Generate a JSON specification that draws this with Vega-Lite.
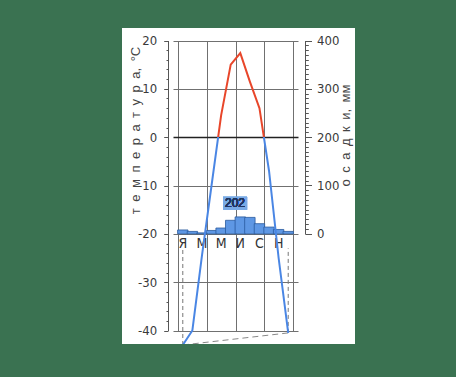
{
  "$schema": "https://vega.github.io/schema/vega-lite/v6.json",
  "width": 233,
  "height": 316,
  "autosize": {"type": "none"},
  "padding": {"left": 122, "top": 28, "right": 101, "bottom": 33},
  "background": "#3a7251",
  "config": {
    "view": {"fill": "white", "stroke": null},
    "font": "Liberation Sans Narrow, DejaVu Sans Condensed, sans-serif"
  },
  "datasets": {
    "climate": [
      {"m": 1, "t": -43, "p": 8, "lbl": "Я"},
      {"m": 2, "t": -40, "p": 5, "lbl": ""},
      {"m": 3, "t": -24.5, "p": 2, "lbl": "М"},
      {"m": 4, "t": -10, "p": 7, "lbl": ""},
      {"m": 5, "t": 4.5, "p": 12, "lbl": "М"},
      {"m": 6, "t": 15, "p": 28, "lbl": ""},
      {"m": 7, "t": 17.4, "p": 35, "lbl": "И"},
      {"m": 8, "t": 11.5, "p": 34, "lbl": ""},
      {"m": 9, "t": 6, "p": 21, "lbl": "С"},
      {"m": 10, "t": -7, "p": 14, "lbl": ""},
      {"m": 11, "t": -25, "p": 9, "lbl": "Н"},
      {"m": 12, "t": -40.5, "p": 5, "lbl": ""}
    ]
  },
  "data": {"name": "climate"},
  "layer": [
    {
      "transform": [{"filter": {"field": "m", "oneOf": [1, 12]}}],
      "mark": {"type": "rule", "clip": true, "color": "#777777", "strokeWidth": 1, "strokeDash": [4, 3]},
      "encoding": {
        "x": {
          "field": "m", "type": "quantitative",
          "scale": {"domain": [0.5, 12.5], "range": [51, 176], "nice": false, "zero": false},
          "axis": {"orient": "bottom", "values": [0.5, 3.5, 6.5, 9.5, 12.5], "grid": true, "gridColor": "#707070", "gridWidth": 1, "labels": false, "ticks": false, "domain": false, "title": null}
        },
        "y": {"field": "t", "type": "quantitative", "scale": {"domain": [-40, 20], "range": [302.5, 12.5], "nice": false, "zero": false}, "axis": null},
        "y2": {"datum": -23}
      }
    },
    {
      "transform": [{"filter": {"field": "m", "oneOf": [1, 12]}}],
      "mark": {"type": "line", "clip": true, "color": "#888888", "strokeWidth": 1, "strokeDash": [6, 4]},
      "encoding": {
        "x": {
          "field": "m", "type": "quantitative",
          "scale": {"domain": [0.5, 12.5], "range": [51, 176], "nice": false, "zero": false},
          "axis": {"orient": "bottom", "values": [0.5, 3.5, 6.5, 9.5, 12.5], "grid": true, "gridColor": "#707070", "gridWidth": 1, "labels": false, "ticks": false, "domain": false, "title": null}
        },
        "y": {"field": "t", "type": "quantitative", "scale": {"domain": [-40, 20], "range": [302.5, 12.5], "nice": false, "zero": false}, "axis": null}
      }
    },
    {
      "mark": {"type": "bar", "width": 10.42, "fill": "#5e97e4", "stroke": "#2a5a9e", "strokeWidth": 0.8},
      "encoding": {
        "x": {
          "field": "m", "type": "quantitative",
          "scale": {"domain": [0.5, 12.5], "range": [51, 176], "nice": false, "zero": false},
          "axis": {"orient": "bottom", "values": [0.5, 3.5, 6.5, 9.5, 12.5], "grid": true, "gridColor": "#707070", "gridWidth": 1, "labels": false, "ticks": false, "domain": false, "title": null}
        },
        "y": {
          "field": "p",
          "type": "quantitative",
          "scale": {"domain": [0, 400], "range": [205.83, 12.5], "nice": false, "zero": true},
          "axis": {
            "orient": "right",
            "offset": -50,
            "values": [0, 10, 20, 30, 40, 50, 60, 70, 80, 90, 100, 110, 120, 130, 140, 150, 160, 170, 180, 190, 200, 210, 220, 230, 240, 250, 260, 270, 280, 290, 300, 310, 320, 330, 340, 350, 360, 370, 380, 390, 400],
            "labelExpr": "datum.value % 100 === 0 ? '' + datum.value : ''",
            "labelOverlap": false,
            "labelFlush": false,
            "tickSize": {"condition": {"test": "datum.value % 100 === 0", "value": 6.5}, "value": 3.3},
            "tickColor": "#555555",
            "domainColor": "#555555",
            "grid": false,
            "labelFontSize": 13,
            "labelColor": "#3a3a3a",
            "labelPadding": 5,
            "title": "о\u2002с\u2002а\u2002д\u2002к\u2002и,\u2002мм",
            "titleFont": "Liberation Sans",
            "titleFontSize": 13,
            "titleFontWeight": "normal",
            "titleColor": "#444444",
            "titleX": 40,
            "titleY": 107,
            "titleAngle": -90,
            "titleAlign": "center",
            "titleBaseline": "middle"
          }
        }
      }
    },
    {
      "mark": {"type": "point", "shape": "M-1.85,-1H1.85V1H-1.85Z", "size": 169, "filled": true, "color": "#79aae6", "opacity": 1},
      "encoding": {
        "x": {
          "datum": 6.45, "type": "quantitative",
          "scale": {"domain": [0.5, 12.5], "range": [51, 176], "nice": false, "zero": false},
          "axis": {"orient": "bottom", "values": [0.5, 3.5, 6.5, 9.5, 12.5], "grid": true, "gridColor": "#707070", "gridWidth": 1, "labels": false, "ticks": false, "domain": false, "title": null}
        },
        "y": {"datum": 63, "type": "quantitative", "scale": {"domain": [0, 400], "range": [205.83, 12.5], "nice": false, "zero": true}, "axis": null}
      }
    },
    {
      "mark": {"type": "text", "fontSize": 12, "color": "#1d3560", "baseline": "middle", "align": "center", "font": "Liberation Sans"},
      "encoding": {
        "x": {
          "datum": 6.45, "type": "quantitative",
          "scale": {"domain": [0.5, 12.5], "range": [51, 176], "nice": false, "zero": false},
          "axis": {"orient": "bottom", "values": [0.5, 3.5, 6.5, 9.5, 12.5], "grid": true, "gridColor": "#707070", "gridWidth": 1, "labels": false, "ticks": false, "domain": false, "title": null}
        },
        "y": {"datum": 63, "type": "quantitative", "scale": {"domain": [0, 400], "range": [205.83, 12.5], "nice": false, "zero": true}, "axis": null},
        "text": {"value": "202"}
      }
    },
    {
      "transform": [{"filter": "datum.lbl !== ''"}],
      "mark": {"type": "text", "fontSize": 14, "color": "#333333", "baseline": "middle", "align": "center"},
      "encoding": {
        "x": {
          "field": "m", "type": "quantitative",
          "scale": {"domain": [0.5, 12.5], "range": [51, 176], "nice": false, "zero": false},
          "axis": {"orient": "bottom", "values": [0.5, 3.5, 6.5, 9.5, 12.5], "grid": true, "gridColor": "#707070", "gridWidth": 1, "labels": false, "ticks": false, "domain": false, "title": null}
        },
        "y": {"datum": -22, "type": "quantitative", "scale": {"domain": [-40, 20], "range": [302.5, 12.5], "nice": false, "zero": false}, "axis": null},
        "text": {"field": "lbl"}
      }
    },
    {
      "mark": {
        "type": "line",
        "clip": true,
        "strokeWidth": 2,
        "color": {
          "gradient": "linear",
          "x1": 0, "y1": 0, "x2": 0, "y2": 1,
          "stops": [
            {"offset": 0, "color": "#e8462a"},
            {"offset": 0.2881, "color": "#e8462a"},
            {"offset": 0.2881, "color": "#4a86e4"},
            {"offset": 1, "color": "#4a86e4"}
          ]
        }
      },
      "encoding": {
        "x": {
          "field": "m", "type": "quantitative",
          "scale": {"domain": [0.5, 12.5], "range": [51, 176], "nice": false, "zero": false},
          "axis": {"orient": "bottom", "values": [0.5, 3.5, 6.5, 9.5, 12.5], "grid": true, "gridColor": "#707070", "gridWidth": 1, "labels": false, "ticks": false, "domain": false, "title": null}
        },
        "y": {
          "field": "t",
          "type": "quantitative",
          "scale": {"domain": [-40, 20], "range": [302.5, 12.5], "nice": false, "zero": false},
          "axis": {
            "orient": "left",
            "offset": -46,
            "values": [-40, -38, -36, -34, -32, -30, -28, -26, -24, -22, -20, -18, -16, -14, -12, -10, -8, -6, -4, -2, 0, 2, 4, 6, 8, 10, 12, 14, 16, 18, 20],
            "labelExpr": "datum.value % 10 === 0 ? '' + datum.value : ''",
            "labelOverlap": false,
            "labelFlush": false,
            "tickSize": {"condition": {"test": "datum.value % 10 === 0", "value": 4.3}, "value": 2},
            "tickColor": "#555555",
            "domainColor": "#555555",
            "grid": true,
            "gridColor": {"condition": {"test": "datum.value === 0", "value": "#222222"}, "value": "#707070"},
            "gridWidth": {"condition": {"test": "datum.value === 0", "value": 1.6}, "value": 1},
            "gridOpacity": {"condition": {"test": "datum.value % 10 !== 0", "value": 0}, "value": 1},
            "labelFontSize": 13,
            "labelColor": "#3a3a3a",
            "labelPadding": 7,
            "title": "т\u2002е\u2002м\u2002п\u2002е\u2002р\u2002а\u2002т\u2002у\u2002р\u2002а,\u2002°С",
            "titleFont": "Liberation Sans",
            "titleFontSize": 13,
            "titleFontWeight": "normal",
            "titleColor": "#444444",
            "titleX": -33,
            "titleY": 102,
            "titleAngle": -90,
            "titleAlign": "center",
            "titleBaseline": "middle"
          }
        }
      }
    }
  ],
  "resolve": {"scale": {"y": "independent"}, "axis": {"y": "independent"}}
}
